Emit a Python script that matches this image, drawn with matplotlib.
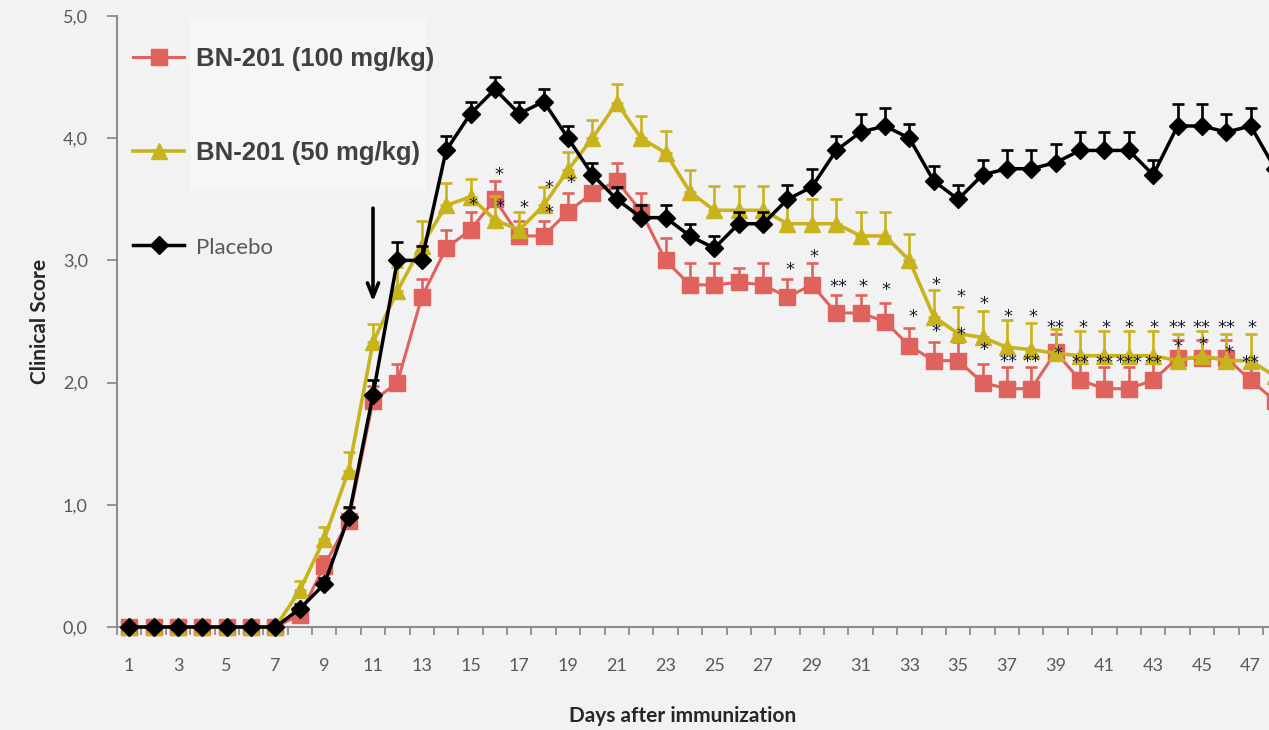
import numpy as np
import matplotlib
matplotlib.use('Agg')
import matplotlib.pyplot as plt
from matplotlib.patches import Rectangle

# values
days = list(range(1, 49))
tick_days = list(range(1, 48, 2))
y_ticks = [0.0, 1.0, 2.0, 3.0, 4.0, 5.0]
y_tick_labels = ['0,0', '1,0', '2,0', '3,0', '4,0', '5,0']

bn_100 = [0, 0, 0, 0, 0, 0, 0,
          0.10, 0.50, 0.87, 1.85, 2.00, 2.70, 3.10, 3.25, 3.50, 3.20,
          3.20, 3.40, 3.55, 3.65, 3.40, 3.00, 2.80, 2.80, 2.82, 2.80,
          2.70, 2.80, 2.57, 2.57, 2.50, 2.30, 2.18, 2.18, 2.00, 1.95,
          1.95, 2.25, 2.02, 1.95, 1.95, 2.02, 2.20, 2.20, 2.20, 2.02, 1.85]
bn_100_err = [0, 0, 0, 0, 0, 0, 0,
              0.05, 0.08, 0.10, 0.12, 0.15, 0.15, 0.15, 0.15, 0.15, 0.12,
              0.12, 0.15, 0.15, 0.15, 0.15, 0.18, 0.18, 0.18, 0.12, 0.18,
              0.15, 0.18, 0.15, 0.15, 0.15, 0.15, 0.15, 0.15, 0.15, 0.18,
              0.18, 0.15, 0.18, 0.18, 0.18, 0.15, 0.15, 0.15, 0.15, 0.15, 0.15]

bn_50 = [0, 0, 0, 0, 0, 0, 0,
         0.30, 0.72, 1.28, 2.33, 2.75, 3.12, 3.45, 3.52, 3.33, 3.25,
         3.45, 3.74, 4.00, 4.29, 4.00, 3.88, 3.56, 3.41, 3.41, 3.41,
         3.30, 3.30, 3.30, 3.20, 3.20, 3.00, 2.54, 2.40, 2.37, 2.29,
         2.27, 2.24, 2.22, 2.22, 2.22, 2.22, 2.18, 2.22, 2.18, 2.18, 2.05]
bn_50_err = [0, 0, 0, 0, 0, 0, 0,
             0.08, 0.10, 0.15, 0.15, 0.20, 0.20, 0.18, 0.15, 0.20, 0.15,
             0.15, 0.15, 0.15, 0.15, 0.18, 0.18, 0.18, 0.20, 0.20, 0.20,
             0.20, 0.20, 0.20, 0.20, 0.20, 0.22, 0.22, 0.22, 0.22, 0.22,
             0.22, 0.20, 0.20, 0.20, 0.20, 0.20, 0.22, 0.20, 0.22, 0.22, 0.22]

placebo = [0, 0, 0, 0, 0, 0, 0,
           0.15, 0.35, 0.90, 1.90, 3.00, 3.00, 3.90, 4.20, 4.40, 4.20,
           4.30, 4.00, 3.70, 3.50, 3.35, 3.35, 3.20, 3.10, 3.30, 3.30,
           3.50, 3.60, 3.90, 4.05, 4.10, 4.00, 3.65, 3.50, 3.70, 3.75,
           3.75, 3.80, 3.90, 3.90, 3.90, 3.70, 4.10, 4.10, 4.05, 4.10, 3.75]
placebo_err = [0, 0, 0, 0, 0, 0, 0,
               0.04, 0.05, 0.08, 0.12, 0.15, 0.12, 0.12, 0.10, 0.10, 0.10,
               0.10, 0.10, 0.10, 0.10, 0.10, 0.10, 0.10, 0.10, 0.10, 0.10,
               0.12, 0.15, 0.12, 0.15, 0.15, 0.12, 0.12, 0.12, 0.12, 0.15,
               0.15, 0.15, 0.15, 0.15, 0.15, 0.12, 0.18, 0.18, 0.15, 0.15, 0.15]

# significance marks: (day, score, label)
stars = [(15.1, 3.45, '*'), (16.15, 3.70, '*'), (16.2, 3.44, '*'),
         (17.2, 3.43, '*'), (18.2, 3.59, '*'), (18.2, 3.39, '*'),
         (19.1, 3.63, '*'), (28.1, 2.92, '*'), (29.1, 3.03, '*'),
         (30.1, 2.78, '**'), (31.1, 2.78, '*'), (32.05, 2.76, '*'),
         (33.15, 2.54, '*'), (34.1, 2.80, '*'), (34.1, 2.41, '*'),
         (35.1, 2.70, '*'), (35.1, 2.39, '*'), (36.05, 2.64, '*'),
         (36.05, 2.27, '*'), (37.05, 2.54, '*'), (37.05, 2.17, '**'),
         (38.05, 2.54, '*'), (38.0, 2.17, '**'), (39.0, 2.45, '**'),
         (39.1, 2.23, '*'), (40.1, 2.45, '*'), (40.0, 2.16, '**'),
         (41.05, 2.45, '*'), (41.0, 2.16, '**'), (42.0, 2.45, '*'),
         (42.0, 2.16, '***'), (43.05, 2.45, '*'), (43.0, 2.16, '**'),
         (44.0, 2.45, '**'), (44.0, 2.29, '*'), (45.0, 2.45, '**'),
         (45.05, 2.31, '*'), (46.0, 2.45, '**'), (46.1, 2.24, '*'),
         (47.05, 2.45, '*'), (47.0, 2.16, '**')]

labels = ['BN-201 (100 mg/kg)', 'BN-201 (50 mg/kg)', 'Placebo']

bg = '#f2f2f2'
red = '#e0625c'
yellow = '#c9b31c'
black = '#000000'
grey = '#8c8c8c'

fig = plt.figure(figsize=(12.69, 7.30), dpi=100, facecolor=bg)
ax = fig.add_axes([117 / 1269, 103 / 730, 1152 / 1269, 611 / 730])
ax.set_facecolor(bg)

# faint box behind the legend
ax.add_patch(Rectangle((0.063, 0.715), 0.205, 0.28, transform=ax.transAxes,
                       facecolor='#f6f6f6', edgecolor='none', zorder=0))

zeros = np.zeros(len(days))
series = [(bn_100, bn_100_err, red, 's', 11.5, 2.2, 2),
          (bn_50, bn_50_err, yellow, '^', 11.5, 2.6, 3),
          (placebo, placebo_err, black, 'D', 9, 2.5, 4)]
handles = []
for vals, err, col, mk, ms, lw, z in series:
    c = ax.errorbar(days, vals, yerr=[zeros, err], fmt='-' + mk, color=col,
                    ms=ms, lw=lw, elinewidth=1.9, capsize=4, capthick=1.9,
                    mec=col, zorder=z)
    for part in [c[0]] + list(c[1]) + list(c[2]):
        part.set_clip_on(False)
    handles.append(c[0])

for d, v, s in stars:
    ax.text(d, v, s, ha='center', va='center', fontsize=13, color='#1a1a2a',
            zorder=6, family='DejaVu Sans')

# dosing arrow
ax.annotate('', xy=(11, 2.64), xytext=(11, 3.45),
            arrowprops=dict(arrowstyle='->,head_length=1.0,head_width=0.4',
                            color='black', lw=2.6))

ax.set_xlim(0.5, 47.75)
ax.set_ylim(0, 5)

ax.set_xticks(tick_days)
ax.set_xticklabels([str(d) for d in tick_days])
ax.set_xticks(np.arange(0.5, 48, 1), minor=True)
ax.tick_params(axis='x', which='major', length=0, pad=22, labelsize=13,
               labelcolor='#595959')
ax.tick_params(axis='x', which='minor', length=6, width=1.3, color=grey,
               direction='out')
ax.set_yticks(y_ticks)
ax.set_yticklabels(y_tick_labels)
ax.tick_params(axis='y', length=7, width=1.3, color=grey, pad=14,
               labelsize=13, labelcolor='#595959')
for t in ax.get_xticklabels() + ax.get_yticklabels():
    t.set_family('Lato')

for side in ['top', 'right']:
    ax.spines[side].set_visible(False)
for side in ['left', 'bottom']:
    ax.spines[side].set_color(grey)
    ax.spines[side].set_linewidth(1.5)

ax.set_ylabel('Clinical Score', fontsize=15, fontweight='bold',
              family='Lato', color='#262626')
ax.yaxis.set_label_coords(-0.058, 0.5)
ax.set_xlabel('Days after immunization', fontsize=15, fontweight='bold',
              family='Lato', color='#262626')
ax.xaxis.set_label_coords(0.491, -0.13)

leg = ax.legend(handles, labels, loc='upper left', bbox_to_anchor=(0.0139, 0.95),
                frameon=False, borderpad=0, borderaxespad=0, handlelength=2.0,
                handletextpad=0.45, labelspacing=2.75, numpoints=1,
                prop={'family': 'Liberation Sans', 'weight': 'bold', 'size': 18.5})
for t in leg.get_texts():
    t.set_color('#404040')
leg.get_texts()[2].set_fontsize(16)
leg.get_texts()[2].set_fontfamily('Lato')
leg.get_texts()[2].set_fontweight('normal')
leg.get_texts()[2].set_color('#595959')

plt.savefig('out.png', dpi=100, facecolor=bg)
